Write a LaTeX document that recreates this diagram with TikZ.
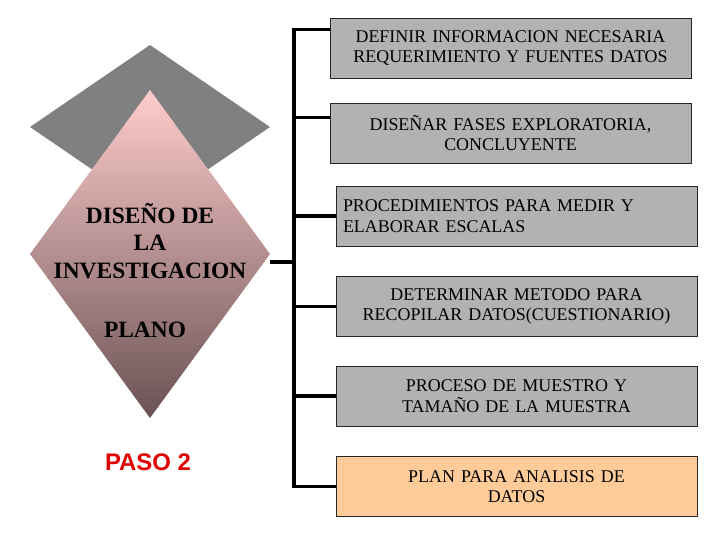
\documentclass[tikz,border=0pt]{standalone}
\usepackage{fontspec}
\setmainfont{Liberation Serif}
\newfontfamily\pasofont{Liberation Sans}
\usepackage{tikz}
\usetikzlibrary{shapes.geometric, positioning}

\definecolor{boxgray}{RGB}{178,178,178}
\definecolor{planpeach}{RGB}{255,204,153}
\definecolor{gempink}{RGB}{255,204,204}
\definecolor{gembrown}{RGB}{106,82,84}
\definecolor{pasored}{RGB}{224,0,0}

\begin{document}
\begin{tikzpicture}[
  x=1bp, y=-1bp,
  stepbox/.style={
    draw=black!85,
    fill=boxgray,
    line width=0.8bp,
    minimum width=361bp,
    minimum height=60bp,
    text width=347bp,
    inner sep=0pt,
    align=center,
    font=\fontsize{18}{20.5}\selectfont
  },
  gem/.style={
    diamond,
    minimum width=240bp,
    inner sep=0pt,
    outer sep=0pt
  },
  gemtext/.style={
    font=\fontsize{23.5}{27.5}\selectfont\bfseries,
    align=center
  },
  bus/.style={
    draw=black,
    line width=3.5bp
  }
]
\useasboundingbox (0,0) rectangle (720,540);

% Back and front diamonds
\node[gem, fill=black!50, minimum height=164bp] (back) at (150,127) {};
\node[gem, minimum height=328bp, top color=gempink, bottom color=gembrown] (plano) at (150,254) {};

\node[gemtext] (titulo) at (150,241) {DISEÑO DE\\LA\\INVESTIGACION};
\node[gemtext] (planotxt) at (145,330) {PLANO};

\node[font=\pasofont\fontsize{24}{28}\selectfont\bfseries, text=pasored] (paso) at (148,462) {PASO 2};

% Step boxes
\node[stepbox] (b1) at (510.5,48)
{DEFINIR INFORMACION NECESARIA\\REQUERIMIENTO Y FUENTES DATOS};

\node[stepbox] (b2) at (510.5,133)
{DISEÑAR FASES EXPLORATORIA,\\CONCLUYENTE};

\node[stepbox, align=left] (b3) at (516.5,216)
{PROCEDIMIENTOS PARA MEDIR Y\\ELABORAR ESCALAS};

\node[stepbox] (b4) at (516.5,306.5)
{DETERMINAR METODO PARA\\RECOPILAR DATOS(CUESTIONARIO)};

\node[stepbox] (b5) at (516.5,396)
{PROCESO DE MUESTRO Y\\TAMAÑO DE LA MUESTRA};

\node[stepbox, fill=planpeach] (b6) at (516.5,486.5)
{PLAN PARA ANALISIS DE\\DATOS};

% Bus and ticks
\coordinate (busx) at (294,30);

\draw[bus] ([yshift=-8bp]plano.east) -- ([yshift=-8bp]plano.east -| busx);
\draw[bus] ([yshift=-12bp]b1.north west) -| (b6.west -| busx) -- (b6.west);
\draw[bus] ([yshift=-15bp]b2.north west) -- ([yshift=-15bp]b2.north west -| busx);
\foreach \b in {b3,b4,b5}
  \draw[bus] (\b.west) -- (\b.west -| busx);

\end{tikzpicture}
\end{document}
